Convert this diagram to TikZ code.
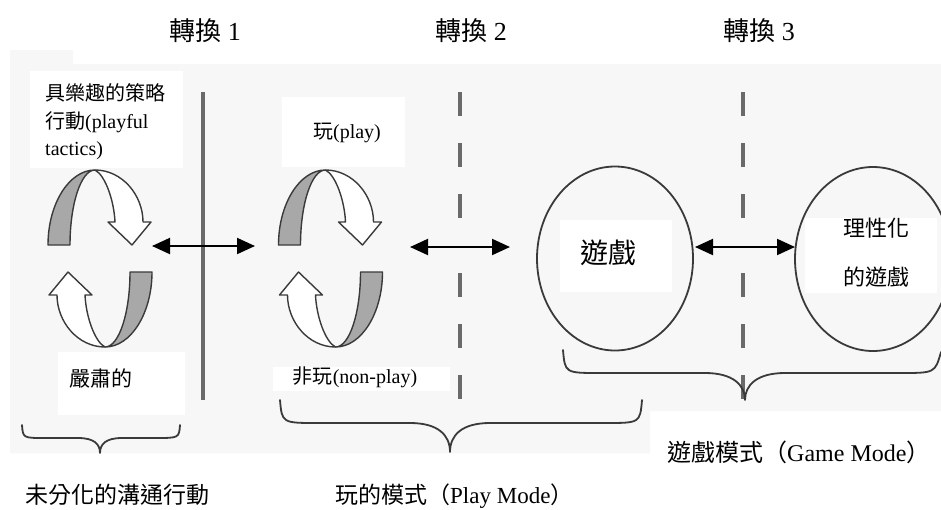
\documentclass[tikz,border=0pt]{standalone}
\usepackage{fontspec}
\setmainfont{Liberation Serif}
\newfontfamily\cjkfont{Noto Sans CJK TC}
\newcommand\zh[1]{{\cjkfont #1}}
\usetikzlibrary{arrows.meta,shapes.geometric}
\definecolor{panel}{HTML}{F7F7F7}
\definecolor{ink}{HTML}{3A3A3A}
\definecolor{linegray}{HTML}{6A6A6A}
\definecolor{ribbon}{HTML}{A8A8A8}
\tikzset{
  dbl/.style={line width=2pt, draw=black,
    {Triangle[length=18pt,width=16pt]}-{Triangle[length=18pt,width=16pt]}},
  divider/.style={line width=3.2pt, draw=linegray},
  dashdiv/.style={line width=3.2pt, draw=linegray, dash pattern=on 24pt off 27pt},
  brace/.style={line width=1.8pt, draw=ink, line cap=round, line join=round},
  circ/.style={ellipse, draw=ink, line width=1.8pt, minimum width=156pt, minimum height=184pt, inner sep=0pt},
  txt/.style={inner sep=0pt, text=black},
  cyclehalf/.pic={
    \filldraw[fill=ribbon, draw=ink, line width=1.4pt, line join=round]
      (-52,-13.5) .. controls (-52,-54.5) and (-31,-88.5) .. (-5,-88.5)
      .. controls (-19,-88.5) and (-30,-54.5) .. (-30,-13.5) -- cycle;
    \filldraw[fill=white, draw=ink, line width=1.4pt, line join=round]
      (-5,-88.5) .. controls (22,-88.5) and (43,-63.5) .. (43,-36.5)
      -- (51,-36.5) -- (32,-13.5) -- (8,-36.5) -- (15,-36.5)
      .. controls (14,-58.5) and (5,-83.5) .. (-5,-88.5) -- cycle;
  }
}
\begin{document}
\begin{tikzpicture}[x=1pt,y=-1pt]
\clip (0,0) rectangle (941,509);
\fill[white] (0,0) rectangle (941,509);
% grey panel
\fill[panel] (10,64) -- (941,64) -- (941,411) -- (650,411) -- (650,453) -- (10,453) -- cycle;
\fill[panel] (10,50) rectangle (73,64);
% white label boxes
\fill[white] (30,71) rectangle (183,168);
\fill[white] (58,352) rectangle (185,415);
\fill[white] (282,97) rectangle (405,167);
\fill[white] (273,367) rectangle (450,391);
\fill[white] (560,220) rectangle (672,292);
\fill[white] (805,218) rectangle (937,293);
% dividers
\draw[divider] (203,92) -- (203,400);
\draw[dashdiv] (460,92) -- (460,222);
\draw[dashdiv] (460,273) -- (460,400);
\draw[dashdiv] (743,92) -- (743,222);
\draw[dashdiv] (743,273) -- (743,400);
% circles
\node[circ] (e1) at (615,258.5) {};
\node[circ] (e2) at (873,259) {};
% cycle icons
\pic at (100,258.5) {cyclehalf};
\pic[rotate=180] at (100,258.5) {cyclehalf};
\pic at (330.5,258.5) {cyclehalf};
\pic[rotate=180] at (330.5,258.5) {cyclehalf};
% arrows
\coordinate (a1l) at (152,246);
\coordinate (a1r) at (255,246);
\coordinate (a2l) at (410,247);
\coordinate (a2r) at (510,247);
\coordinate (a3l) at (695,247);
\coordinate (a3r) at (795,247);
\draw[dbl] (a1l) -- (a1r);
\draw[dbl] (a2l) -- (a2r);
\draw[dbl] (a3l) -- (a3r);
% braces
\draw[brace] (22,425) .. controls (23,438) .. (45,438) -- (78,438)
  .. controls (94,438) and (100,444) .. (100,453)
  .. controls (100,444) and (106,438) .. (122,438) -- (155,438)
  .. controls (179,438) .. (180,425);
\draw[brace] (280,400) .. controls (282,423) .. (318,423) -- (410,423)
  .. controls (438,423) and (450,435) .. (450,452)
  .. controls (450,435) and (462,423) .. (490,423) -- (605,423)
  .. controls (640,423) .. (642,400);
\draw[brace] (563,350) .. controls (565,373) .. (600,373) -- (705,373)
  .. controls (733,373) and (745,385) .. (745,400)
  .. controls (745,385) and (757,373) .. (785,373) -- (900,373)
  .. controls (935,373) .. (941,352);
% titles
\node[txt, anchor=base, font=\fontsize{26}{30}\selectfont] (t1) at (205,40) {\zh{轉換} 1};
\node[txt, anchor=base, font=\fontsize{26}{30}\selectfont] (t2) at (471,40) {\zh{轉換} 2};
\node[txt, anchor=base, font=\fontsize{26}{30}\selectfont] (t3) at (759,40) {\zh{轉換} 3};
% labels
\node[txt, anchor=base west, font=\fontsize{20}{24}\selectfont] (l1a) at (45,100) {\zh{具樂趣的策略}};
\node[txt, anchor=base west, font=\fontsize{20}{24}\selectfont] (l1b) at (45,128) {\zh{行動}(playful};
\node[txt, anchor=base west, font=\fontsize{20}{24}\selectfont] (l1c) at (45,155) {tactics)};
\node[txt, anchor=base, font=\fontsize{21}{24}\selectfont] (serious) at (101,386) {\zh{嚴肅的}};
\node[txt, anchor=base, font=\fontsize{20}{24}\selectfont] (play) at (347,138) {\zh{玩}(play)};
\node[txt, anchor=base, font=\fontsize{20}{24}\selectfont] (nonplay) at (355,383) {\zh{非玩}(non-play)};
\node[txt, anchor=base, font=\fontsize{28}{32}\selectfont] (g1) at (608,263.6) {\zh{遊戲}};
\node[txt, anchor=base, font=\fontsize{22}{26}\selectfont] (g2a) at (876,236.4) {\zh{理性化}};
\node[txt, anchor=base, font=\fontsize{22}{26}\selectfont] (g2b) at (876,285.4) {\zh{的遊戲}};
\node[txt, anchor=base west, font=\fontsize{24}{28}\selectfont] (gm) at (667,461) {\zh{遊戲模式（}Game Mode\zh{）}};
\node[txt, anchor=base west, font=\fontsize{23}{27}\selectfont] (ud) at (25,503) {\zh{未分化的溝通行動}};
\node[txt, anchor=base west, font=\fontsize{23}{27}\selectfont] (pm) at (335,503) {\zh{玩的模式（}Play Mode\zh{）}};
\end{tikzpicture}
\end{document}
